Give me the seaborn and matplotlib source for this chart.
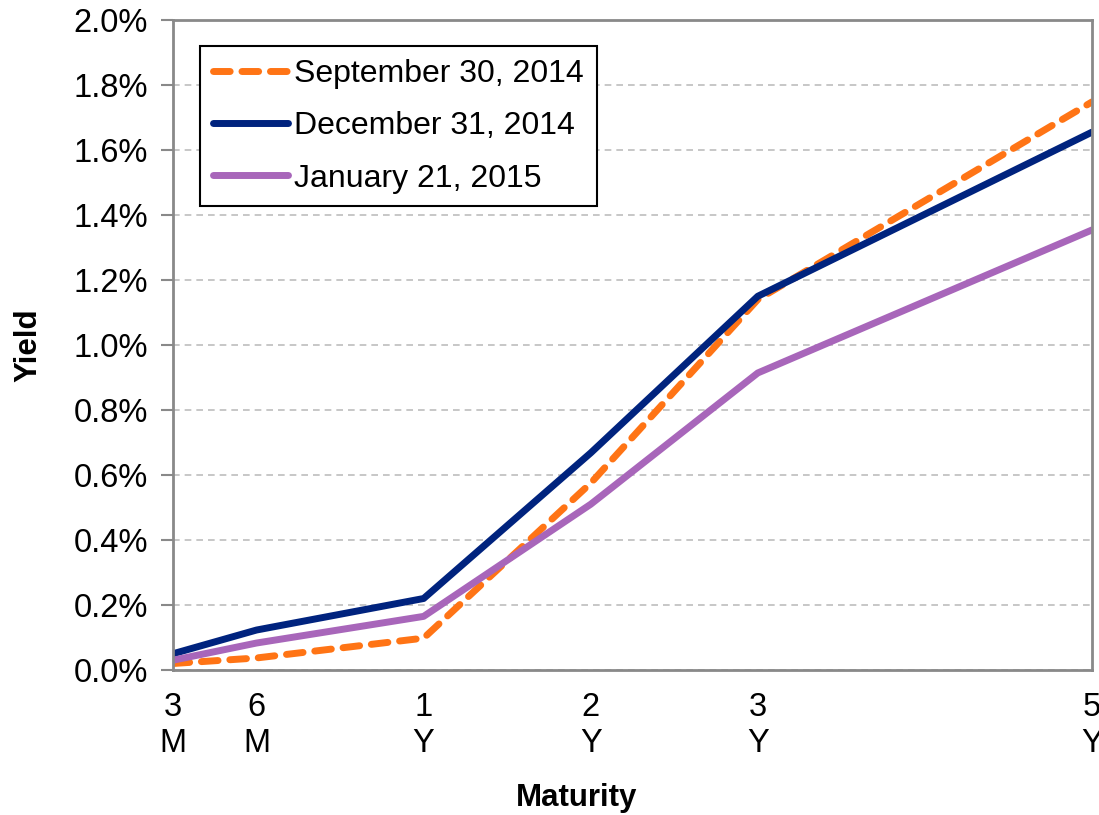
import numpy as np
import pandas as pd
import matplotlib
matplotlib.use("Agg")
import matplotlib.pyplot as plt
import seaborn as sns

# maturities and where they sit on the (uneven) maturity axis
maturity_labels = ["3\nM", "6\nM", "1\nY", "2\nY", "3\nY", "5\nY"]
maturity_pos = [0, 1, 3, 5, 7, 11]

# yields in percent
sep_2014 = [0.02, 0.037, 0.098, 0.575, 1.14, 1.748]
dec_2014 = [0.05, 0.123, 0.22, 0.668, 1.15, 1.655]
jan_2015 = [0.03, 0.083, 0.165, 0.51, 0.914, 1.354]

series = [
    ("September 30, 2014", sep_2014, "#FF7415", (2.4, 1.7)),
    ("December 31, 2014", dec_2014, "#00237E", None),
    ("January 21, 2015", jan_2015, "#A866BA", None),
]

sns.set_style("white")
plt.rcParams['font.family'] = ['Liberation Sans', 'DejaVu Sans']
plt.rcParams['text.color'] = 'black'
plt.rcParams['axes.labelcolor'] = 'black'

fig = plt.figure(figsize=(10.99, 8.15), dpi=100)
ax = fig.add_axes([173 / 1099, 1 - 670 / 815, (1092 - 173) / 1099, (670 - 20) / 815])

for name, vals, color, dash in series:
    df = pd.DataFrame({"pos": maturity_pos, "yield": np.array(vals) / 100})
    sns.lineplot(data=df, x="pos", y="yield", ax=ax, color=color, linewidth=5, label=name)
    l = ax.lines[-1]
    if dash:
        l.set_dashes(dash)
        l.set_dash_capstyle("round")
    else:
        l.set_solid_capstyle("round")

ax.set_xlim(0, 11)
ax.set_ylim(0, 0.02)
ax.set_xticks(maturity_pos)
ax.set_xticklabels(maturity_labels, fontsize=23.5, linespacing=1.2)
yt = np.arange(0, 0.0201, 0.002)
ax.set_yticks(yt)
ax.set_yticklabels([f"{v*100:.1f}%" for v in yt], fontsize=23.5)
ax.tick_params(axis="y", direction="out", length=9, width=1.5, color="#898989",
               labelcolor="black", pad=9, left=True)
ax.tick_params(axis="x", length=0, pad=16, labelcolor="black")
ax.yaxis.grid(True, linestyle=(0, (4, 3)), color="#BEBEBE", linewidth=1.2)
for s in ax.spines.values():
    s.set_color("#898989")
    s.set_linewidth(2)
    s.set_visible(True)

ax.set_xlabel("Maturity", fontsize=22.5, fontweight="bold")
ax.set_ylabel("Yield", fontsize=22.5, fontweight="bold")
ax.xaxis.set_label_coords((577 - 173) / 919, -(798 - 670) / 650)
ax.yaxis.set_label_coords(-(173 - 28) / 919, 0.5)
ax.xaxis.label.set_va("center")
ax.yaxis.label.set_va("center")

leg = ax.legend(loc="upper left", bbox_to_anchor=(27 / 919, 1 - 26 / 650), fontsize=23,
                frameon=True, fancybox=False, edgecolor="black", handlelength=2.35,
                handletextpad=0.2, borderpad=0.4, labelspacing=0.7, borderaxespad=0)
leg.get_frame().set_linewidth(1.5)
leg.get_frame().set_alpha(1)

fig.savefig("out.png", dpi=100)
